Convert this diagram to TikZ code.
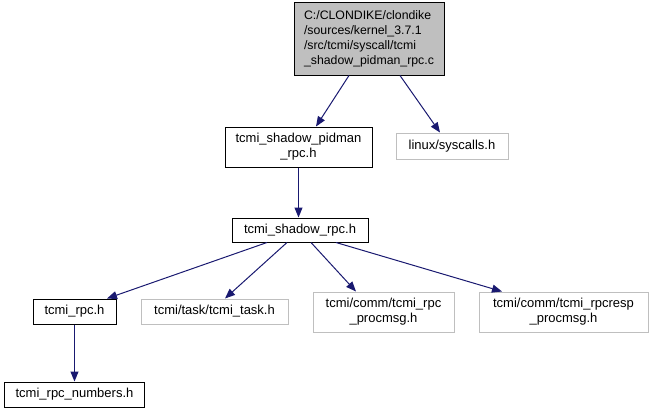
\documentclass[tikz,border=0pt]{standalone}
\usepackage{fontspec}
\setmainfont{Liberation Sans}
\usetikzlibrary{arrows.meta}
\definecolor{edgeblue}{HTML}{191970}
\definecolor{lgray}{HTML}{BFBFBF}
\tikzset{
  box/.style={draw=black, line width=1pt, inner sep=0pt, font=\fontsize{13}{15}\selectfont, align=center},
  gbox/.style={box, draw=lgray},
  rootbox/.style={box, fill=lgray, align=left, font=\fontsize{12.3}{15}\selectfont},
  dep/.style={draw=edgeblue, line width=1pt, -{Triangle[length=10pt,width=8pt]}}
}
\begin{document}
\begin{tikzpicture}[x=1pt,y=-1pt]
\useasboundingbox (0,0) rectangle (651,413);
\node[rootbox, minimum width=150pt, minimum height=73pt] (root) at (369,38.5)
  {C:/CLONDIKE/clondike\\/sources/kernel\_3.7.1\\/src/tcmi/syscall/tcmi\\\_shadow\_pidman\_rpc.c};
\node[box, minimum width=147pt, minimum height=40pt] (pidman) at (298.5,147) {tcmi\_shadow\_pidman\\\_rpc.h};
\node[gbox, minimum width=112pt, minimum height=26pt] (sys) at (452,146) {linux/syscalls.h};
\node[box, minimum width=136pt, minimum height=24pt] (shadow) at (300,230) {tcmi\_shadow\_rpc.h};
\node[box, minimum width=83pt, minimum height=25pt] (rpc) at (74.5,311.5) {tcmi\_rpc.h};
\node[gbox, minimum width=147pt, minimum height=25pt] (task) at (214.5,311.5) {tcmi/task/tcmi\_task.h};
\node[gbox, minimum width=141pt, minimum height=40pt] (proc) at (383.5,312) {tcmi/comm/tcmi\_rpc\\\_procmsg.h};
\node[gbox, minimum width=169pt, minimum height=40pt] (resp) at (563.5,312) {tcmi/comm/tcmi\_rpcresp\\\_procmsg.h};
\node[box, minimum width=140pt, minimum height=25pt] (num) at (74.5,394.5) {tcmi\_rpc\_numbers.h};

\draw[dep] ([xshift=-20pt]root.south) -- ([xshift=17.5pt]pidman.north);
\draw[dep] ([xshift=31pt]root.south) -- ([xshift=-12pt]sys.north);
\draw[dep] (pidman.south) -- (pidman.south |- shadow.north);
\draw[dep] ([xshift=-33pt]shadow.south) -- ([xshift=32.5pt]rpc.north);
\draw[dep] ([xshift=-13pt]shadow.south) -- ([xshift=10.5pt]task.north);
\draw[dep] ([xshift=11pt]shadow.south) -- ([xshift=-27.5pt]proc.north);
\draw[dep] ([xshift=36pt]shadow.south) -- ([xshift=-61.5pt]resp.north);
\draw[dep] (rpc.south) -- (num.north);
\end{tikzpicture}
\end{document}
